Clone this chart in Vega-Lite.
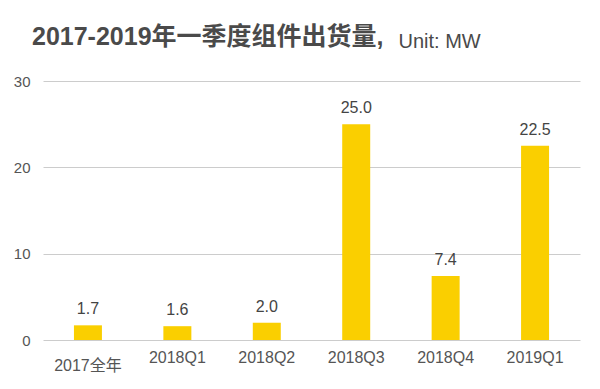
{
  "$schema": "https://vega.github.io/schema/vega-lite/v6.json",
  "width": 537,
  "height": 259,
  "autosize": "none",
  "padding": {"left": 43, "top": 81, "right": 20, "bottom": 49},
  "background": "white",
  "title": {
    "text": "2017-2019年一季度组件出货量,",
    "anchor": "start",
    "frame": "group",
    "dx": -11,
    "offset": -19,
    "font": "Liberation Sans, Noto Sans CJK SC",
    "fontSize": 25,
    "fontWeight": "bold",
    "color": "#4a4a4a"
  },
  "data": {
    "values": [
      {"period": "2017全年", "value": 1.7},
      {"period": "2018Q1", "value": 1.6},
      {"period": "2018Q2", "value": 2.0},
      {"period": "2018Q3", "value": 25.0},
      {"period": "2018Q4", "value": 7.4},
      {"period": "2019Q1", "value": 22.5}
    ]
  },
  "config": {
    "view": {"stroke": null},
    "font": "Liberation Sans, Noto Sans CJK SC"
  },
  "encoding": {
    "x": {
      "field": "period",
      "type": "nominal",
      "sort": null,
      "scale": {"paddingInner": 0.687, "paddingOuter": 0.346},
      "axis": {
        "title": null,
        "labelAngle": 0,
        "domain": false,
        "ticks": false,
        "labelPadding": {"condition": {"test": "datum.value == '2017全年'", "value": 17}, "value": 9},
        "labelFontSize": 16,
        "labelColor": "#555555",
        "labelFont": "Liberation Sans, Noto Sans CJK SC"
      }
    },
    "y": {
      "field": "value",
      "type": "quantitative",
      "scale": {"domain": [0, 30]},
      "axis": {
        "title": "Unit: MW",
        "titleAngle": 0,
        "titleAlign": "left",
        "titleBaseline": "alphabetic",
        "titleX": 355,
        "titleY": -34,
        "titleFont": "Liberation Sans, Noto Sans CJK SC",
        "titleFontSize": 20,
        "titleFontWeight": "normal",
        "titleColor": "#4a4a4a",
        "values": [0, 10, 20, 30],
        "domain": false,
        "ticks": false,
        "labelPadding": 13,
        "labelFontSize": 15,
        "labelColor": "#555555",
        "gridColor": "#cccccc",
        "gridWidth": 1
      }
    }
  },
  "layer": [
    {"mark": {"type": "bar", "color": "#FACF00"}},
    {
      "mark": {"type": "text", "dy": -11, "baseline": "alphabetic", "fontSize": 16, "color": "#444444"},
      "encoding": {"text": {"field": "value", "type": "quantitative", "format": ".1f"}}
    }
  ]
}
